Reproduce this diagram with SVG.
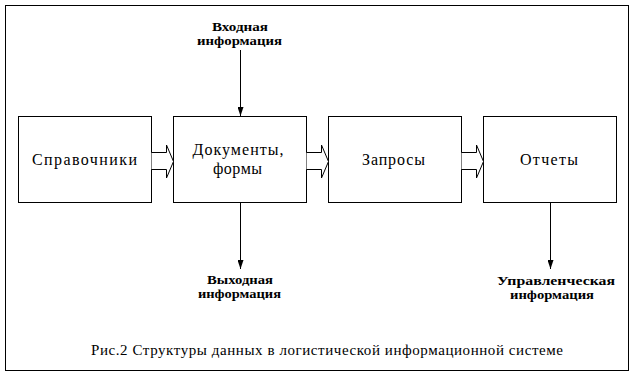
<svg xmlns="http://www.w3.org/2000/svg" width="636" height="378" viewBox="0 0 636 378">
<style>
.box{fill:#fff;stroke:#000;stroke-width:1}
.lbl{font-family:"Liberation Serif","DejaVu Serif","Times New Roman",serif;font-size:16px;fill:#000;text-anchor:middle}
.sm{font-family:"Liberation Serif","DejaVu Serif","Times New Roman",serif;font-size:12px;font-weight:bold;fill:#000;text-anchor:middle}
.cap{font-family:"Liberation Serif","DejaVu Serif","Times New Roman",serif;font-size:15px;fill:#000;text-anchor:middle}
.blk{fill:#fff;stroke:#000;stroke-width:1}
.ln{stroke:#000;stroke-width:1;fill:none}
</style>
<defs>
<marker id="ah" markerWidth="9" markerHeight="6" refX="9" refY="3" orient="auto" markerUnits="userSpaceOnUse" viewBox="0 0 9 6">
<path d="M0,0 L9,3 L0,6 Z" fill="#000"/>
</marker>
<path id="blkarrow" d="M0,0 H15 V-7.5 L22,9 L15,25.5 V17 H0"/>
</defs>
<rect x="5.5" y="5.5" width="623" height="365" fill="#fff" stroke="#000" stroke-width="1"/>
<g id="node-spravochniki">
<rect class="box" x="18.5" y="116.5" width="133" height="86"/>
<text class="lbl" x="84.5" y="165" textLength="105" lengthAdjust="spacing">Справочники</text>
</g>
<g id="node-dokumenty">
<rect class="box" x="173.5" y="116.5" width="133" height="86"/>
<text class="lbl" x="238" y="155" textLength="91" lengthAdjust="spacing">Документы,</text>
<text class="lbl" x="237.5" y="174" textLength="49" lengthAdjust="spacing">формы</text>
</g>
<g id="node-zaprosy">
<rect class="box" x="328.5" y="116.5" width="133" height="86"/>
<text class="lbl" x="393.5" y="165" textLength="63" lengthAdjust="spacing">Запросы</text>
</g>
<g id="node-otchety">
<rect class="box" x="483.5" y="116.5" width="133" height="86"/>
<text class="lbl" x="549" y="165" textLength="58" lengthAdjust="spacing">Отчеты</text>
</g>
<g id="label-vhod">
<text class="sm" x="240" y="31" textLength="56" lengthAdjust="spacingAndGlyphs">Входная</text>
<text class="sm" x="239.5" y="45" textLength="85" lengthAdjust="spacingAndGlyphs">информация</text>
</g>
<g id="label-vyhod">
<text class="sm" x="240" y="284" textLength="66" lengthAdjust="spacingAndGlyphs">Выходная</text>
<text class="sm" x="239.5" y="298" textLength="83" lengthAdjust="spacingAndGlyphs">информация</text>
</g>
<g id="label-uprav">
<text class="sm" x="556" y="285" textLength="118" lengthAdjust="spacingAndGlyphs">Управленческая</text>
<text class="sm" x="552" y="299" textLength="84" lengthAdjust="spacingAndGlyphs">информация</text>
</g>
<g id="connectors">
<use href="#blkarrow" class="blk" transform="translate(151.5,152.5)"/>
<use href="#blkarrow" class="blk" transform="translate(306.5,152.5)"/>
<use href="#blkarrow" class="blk" transform="translate(461.5,152.5)"/>
<line class="ln" x1="240.5" y1="50" x2="240.5" y2="116" marker-end="url(#ah)"/>
<line class="ln" x1="240.5" y1="203" x2="240.5" y2="269" marker-end="url(#ah)"/>
<line class="ln" x1="550.5" y1="203" x2="550.5" y2="269" marker-end="url(#ah)"/>
</g>
<text class="cap" x="327" y="355" textLength="472" lengthAdjust="spacing">Рис.2 Структуры данных в логистической информационной системе</text>
</svg>
